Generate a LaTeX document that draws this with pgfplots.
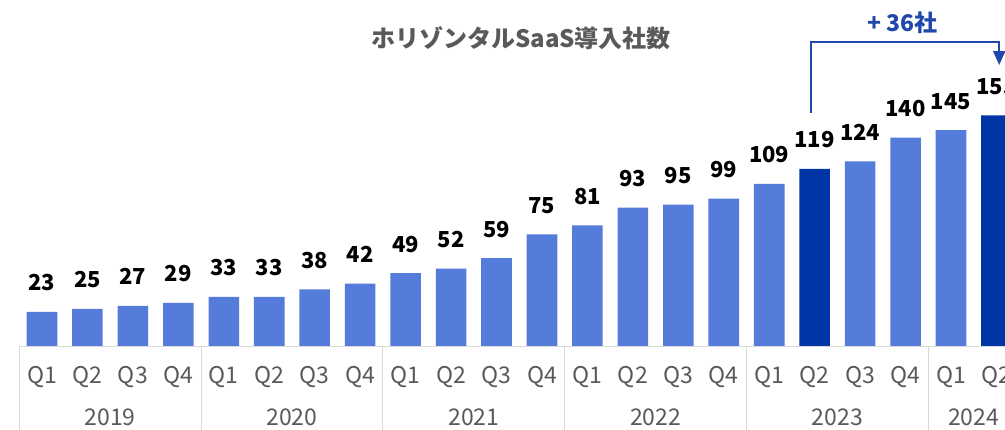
\documentclass[border=0pt]{standalone}
\usepackage{fontspec}
\setmainfont{Noto Sans CJK JP}
\usepackage{pgfplots}
\pgfplotsset{compat=1.18}
\usetikzlibrary{arrows.meta}

\definecolor{barlight}{RGB}{85,123,219}
\definecolor{bardark}{RGB}{0,53,165}
\definecolor{anno}{RGB}{31,72,170}
\definecolor{txtgray}{RGB}{89,89,89}
\definecolor{sepgray}{RGB}{217,217,217}

\begin{document}
\begin{tikzpicture}
  % 1 px of the reference = 0.5pt; the picture is cut off at the right
  \useasboundingbox (0,-41.5pt) rectangle (502.5pt,173pt);
  \clip (0,-41.5pt) rectangle (502.5pt,173pt);
  \begin{axis}[
    scale only axis,
    width=502.5pt, height=173pt,
    xmin=-0.924, xmax=21.188,
    ymin=0, ymax=232.5,
    clip=false,
    axis line style={draw=none},
    major tick length=0pt,
    ytick=\empty,
    xtick={0,...,21},
    xticklabels={Q1,Q2,Q3,Q4,Q1,Q2,Q3,Q4,Q1,Q2,Q3,Q4,Q1,Q2,Q3,Q4,Q1,Q2,Q3,Q4,Q1,Q2},
    xticklabel style={anchor=base, yshift=-18.5pt, inner sep=0pt,
      text=txtgray, font=\fontsize{11.5}{13}\selectfont},
    extra x ticks={1.5,5.5,9.5,13.5,17.5,20.5},
    extra x tick labels={2019,2020,2021,2022,2023,2024},
    extra x tick style={xticklabel style={yshift=-21pt}},
    ybar, bar width=0.673, bar shift=0pt,
    nodes near coords,
    nodes near coords style={anchor=base, yshift=10.5pt, inner sep=0pt,
      text=black, font=\bfseries\fontsize{11}{13}\selectfont},
    /pgf/number format/assume math mode=true,
  ]
  \addplot[fill=barlight, draw=none] coordinates {
    (0,23) (1,25) (2,27) (3,29) (4,33) (5,33) (6,38) (7,42)
    (8,49) (9,52) (10,59) (11,75) (12,81) (13,93) (14,95) (15,99)
    (16,109) (18,124) (19,140) (20,145)};
  \addplot[fill=bardark, draw=none] coordinates {(17,119) (21,155)};

  % category frame
  \draw[sepgray, line width=0.5pt] (axis cs:-0.5,0) -- (axis cs:21.188,0);
  \pgfplotsinvokeforeach{-0.5,3.5,7.5,11.5,15.5,19.5}{
    \draw[sepgray, line width=0.5pt] (axis cs:#1,0) -- (axis cs:#1,-60);
  }

  % title
  \node[font=\bfseries\fontsize{12}{14}\selectfont, text=txtgray]
    at (axis cs:10.54,207) {ホリゾンタルSaaS導入社数};

  % growth annotation
  \draw[anno, line width=1pt, -{Triangle[width=6pt,length=7pt]}]
    (axis cs:16.93,156.6) -- (axis cs:16.93,204.5)
    -- (axis cs:21.06,204.5) -- (axis cs:21.06,188.8);
  \node[font=\bfseries\fontsize{11.5}{13}\selectfont, text=anno]
    at (axis cs:18.94,217) {+ 36社};
  \end{axis}
\end{tikzpicture}
\end{document}
